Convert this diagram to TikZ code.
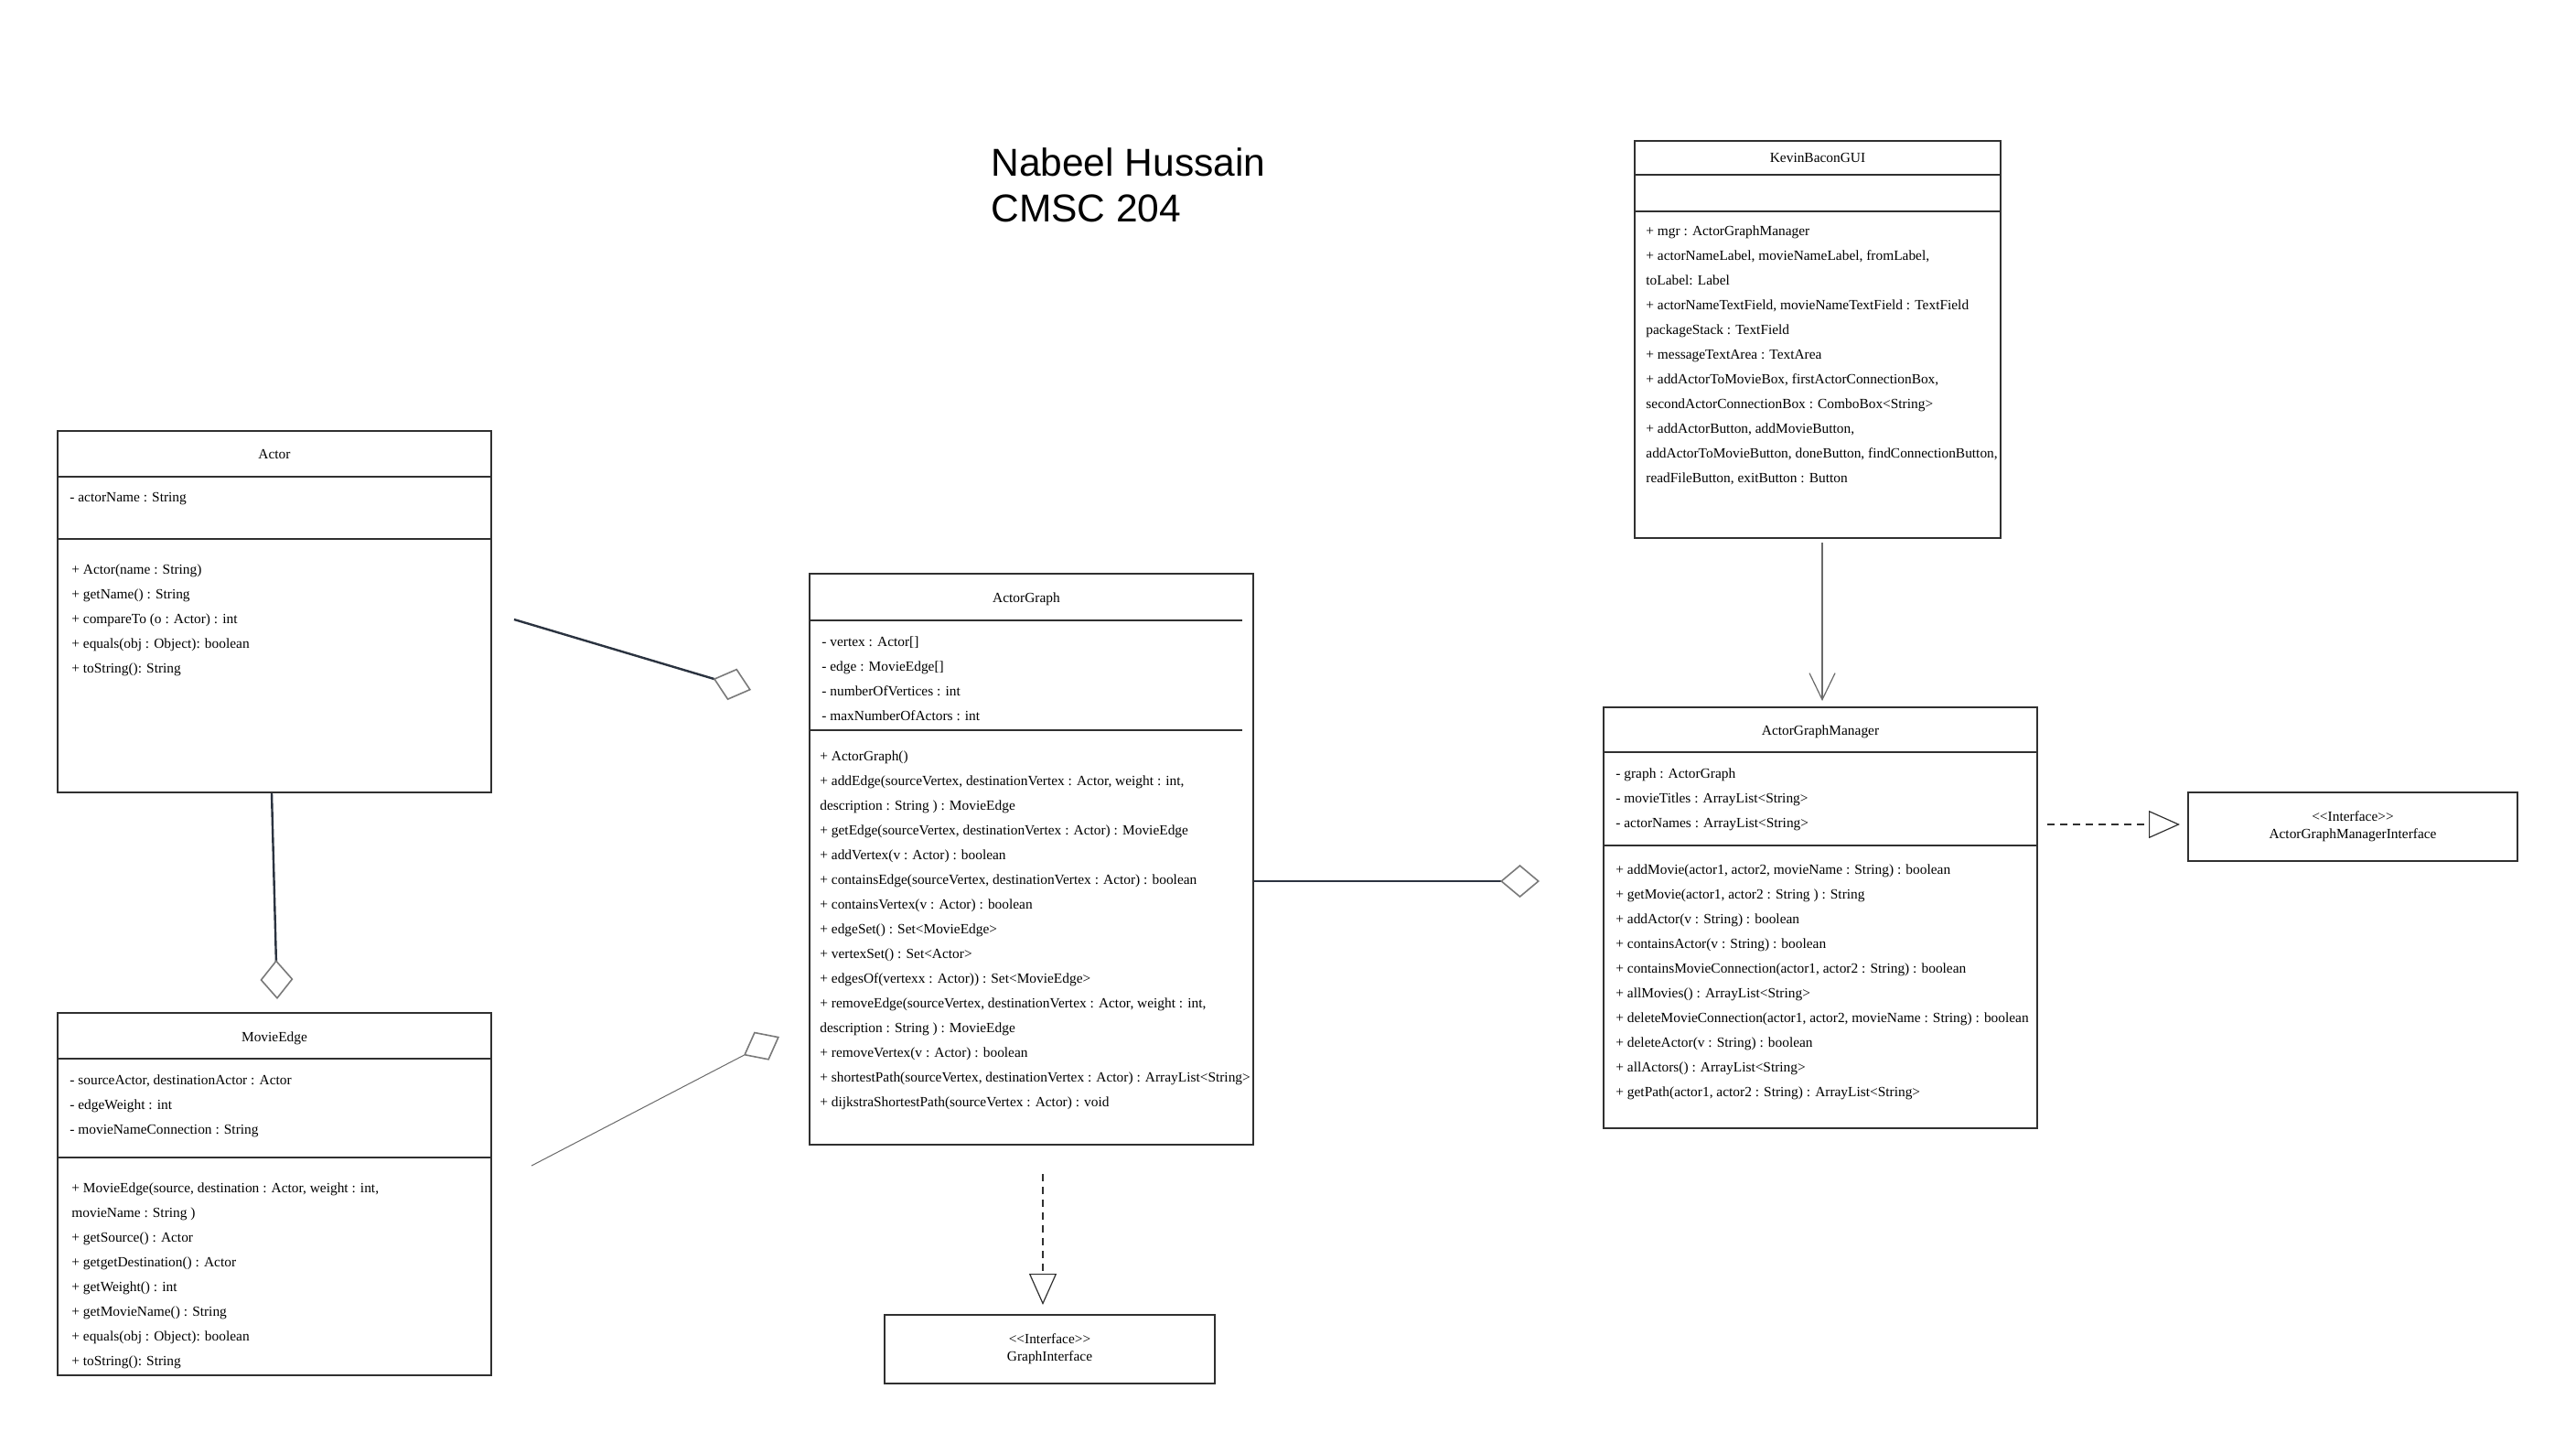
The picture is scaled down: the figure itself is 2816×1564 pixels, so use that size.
\documentclass[tikz,border=0pt]{standalone}
\usepackage{fontspec}
\newfontfamily\umlfont{Liberation Serif}
\newfontfamily\headfont{Liberation Sans}
\usetikzlibrary{arrows.meta,fit}
\definecolor{boxline}{HTML}{303030}
\definecolor{assocline}{HTML}{2B3340}
\definecolor{diagray}{HTML}{7A7A7A}
\definecolor{thinline}{HTML}{6A6A6A}
\newcommand{\stereo}[1]{<\kern0pt<#1>\kern0pt>}
\tikzset{
  classbox/.style={draw=boxline, line width=0.75pt, inner sep=0pt},
  sepline/.style={draw=boxline, line width=0.75pt},
  classtitle/.style={anchor=base, inner sep=0pt, font=\umlfont\fontsize{7.7pt}{9pt}\selectfont},
  member/.style={anchor=base west, inner sep=0pt, font=\umlfont\fontsize{7.7pt}{9pt}\selectfont},
  ifacebox/.style={draw=boxline, line width=0.75pt, inner sep=0pt, align=center,
    minimum width=180pt, minimum height=37.5pt, font=\umlfont\fontsize{7.7pt}{9.5pt}\selectfont},
  headline/.style={anchor=base west, inner sep=0pt, font=\headfont\fontsize{21.25pt}{25pt}\selectfont},
  aggr/.style={draw=assocline, line width=1.2pt,
    -{Diamond[open, color=diagray, line width=0.8pt, length=21.5pt, width=18pt]}},
  thinaggr/.style={draw=thinline, line width=0.5pt,
    -{Diamond[open, color=diagray, line width=0.8pt, length=22pt, width=17.5pt]}},
  uses/.style={draw=thinline, line width=0.6pt, -{Straight Barb[length=14.5pt, width=14pt]}},
  realizes/.style={draw=boxline, line width=0.6pt, dash pattern=on 4pt off 3pt,
    -{Triangle[open, length=17pt, width=15pt, line width=0.6pt]}}
}
\begin{document}
\begin{tikzpicture}[x=0.5pt, y=-0.5pt]
\fill[white] (0,0) rectangle (2816,1564);
\useasboundingbox (0,0) rectangle (2816,1564);

% heading
\node[headline] (author) at (1083,192) {Nabeel Hussain};
\node[headline] (course) at (1083,242) {CMSC 204};

% Actor
\node[classbox, fit={(63,471) (537,866)}] (actor) {};
\draw[sepline] (63,521) -- (537,521);
\draw[sepline] (63,589) -- (537,589);
\node[classtitle] (actor-title) at (300,501) {Actor};
\node[member] (actor-a0) at (76,548) {- actorName : String};
\foreach \txt [count=\i from 0] in {{+ Actor(name : String)}, {+ getName() : String},
    {+ compareTo (o : Actor) : int}, {+ equals(obj : Object): boolean}, {+ toString(): String}}
  \node[member] (actor-m\i) at (78,627+27*\i) {\txt};

% MovieEdge
\node[classbox, fit={(63,1107) (537,1503)}] (edge) {};
\draw[sepline] (63,1157) -- (537,1157);
\draw[sepline] (63,1265) -- (537,1265);
\node[classtitle] (edge-title) at (300,1138) {MovieEdge};
\foreach \txt [count=\i from 0] in {{- sourceActor, destinationActor : Actor},
    {- edgeWeight : int}, {- movieNameConnection : String}}
  \node[member] (edge-a\i) at (76,1185+27*\i) {\txt};
\foreach \txt [count=\i from 0] in {{+ MovieEdge(source, destination : Actor, weight : int,},
    {movieName : String )}, {+ getSource() : Actor}, {+ getgetDestination() : Actor},
    {+ getWeight() : int}, {+ getMovieName() : String}, {+ equals(obj : Object): boolean},
    {+ toString(): String}}
  \node[member] (edge-m\i) at (78,1303+27*\i) {\txt};

% ActorGraph
\node[classbox, fit={(885,627) (1370,1251)}] (graph) {};
\draw[sepline] (885,678) -- (1358,678);
\draw[sepline] (885,798) -- (1358,798);
\node[classtitle] (graph-title) at (1122,658) {ActorGraph};
\foreach \txt [count=\i from 0] in {{- vertex : Actor[]}, {- edge : MovieEdge[]},
    {- numberOfVertices : int}, {- maxNumberOfActors : int}}
  \node[member] (graph-a\i) at (898,706+27*\i) {\txt};
\foreach \txt [count=\i from 0] in {{+ ActorGraph()},
    {+ addEdge(sourceVertex, destinationVertex : Actor, weight : int,},
    {description : String ) : MovieEdge},
    {+ getEdge(sourceVertex, destinationVertex : Actor) : MovieEdge},
    {+ addVertex(v : Actor) : boolean},
    {+ containsEdge(sourceVertex, destinationVertex : Actor) : boolean},
    {+ containsVertex(v : Actor) : boolean}, {+ edgeSet() : Set<MovieEdge>},
    {+ vertexSet() : Set<Actor>}, {+ edgesOf(vertexx : Actor)) : Set<MovieEdge>},
    {+ removeEdge(sourceVertex, destinationVertex : Actor, weight : int,},
    {description : String ) : MovieEdge}, {+ removeVertex(v : Actor) : boolean},
    {+ shortestPath(sourceVertex, destinationVertex : Actor) : ArrayList<String>},
    {+ dijkstraShortestPath(sourceVertex : Actor) : void}}
  \node[member] (graph-m\i) at (896,831+27*\i) {\txt};

% KevinBaconGUI
\node[classbox, fit={(1787,154) (2187,588)}] (gui) {};
\draw[sepline] (1787,191) -- (2187,191);
\draw[sepline] (1787,231) -- (2187,231);
\node[classtitle] (gui-title) at (1987,177) {KevinBaconGUI};
\foreach \txt [count=\i from 0] in {{+ mgr : ActorGraphManager},
    {+ actorNameLabel, movieNameLabel, fromLabel,}, {toLabel: Label},
    {+ actorNameTextField, movieNameTextField : TextField}, {packageStack : TextField},
    {+ messageTextArea : TextArea}, {+ addActorToMovieBox, firstActorConnectionBox,},
    {secondActorConnectionBox : ComboBox<String>}, {+ addActorButton, addMovieButton,},
    {addActorToMovieButton, doneButton, findConnectionButton,},
    {readFileButton, exitButton : Button}}
  \node[member] (gui-m\i) at (1799,257+27*\i) {\txt};

% ActorGraphManager
\node[classbox, fit={(1753,773) (2227,1233)}] (mgr) {};
\draw[sepline] (1753,822) -- (2227,822);
\draw[sepline] (1753,924) -- (2227,924);
\node[classtitle] (mgr-title) at (1990,803) {ActorGraphManager};
\foreach \txt [count=\i from 0] in {{- graph : ActorGraph}, {- movieTitles : ArrayList<String>},
    {- actorNames : ArrayList<String>}}
  \node[member] (mgr-a\i) at (1766,850+27*\i) {\txt};
\foreach \txt [count=\i from 0] in {{+ addMovie(actor1, actor2, movieName : String) : boolean},
    {+ getMovie(actor1, actor2 : String ) : String}, {+ addActor(v : String) : boolean},
    {+ containsActor(v : String) : boolean},
    {+ containsMovieConnection(actor1, actor2 : String) : boolean},
    {+ allMovies() : ArrayList<String>},
    {+ deleteMovieConnection(actor1, actor2, movieName : String) : boolean},
    {+ deleteActor(v : String) : boolean}, {+ allActors() : ArrayList<String>},
    {+ getPath(actor1, actor2 : String) : ArrayList<String>}}
  \node[member] (mgr-m\i) at (1766,955+27*\i) {\txt};

% interfaces
\node[ifacebox] (mgr-iface) at (2572,903.5) {\stereo{Interface}\\ActorGraphManagerInterface};
\node[ifacebox, minimum width=180.5pt] (graph-iface) at (1147.5,1474.5) {\stereo{Interface}\\GraphInterface};

% connector ends
\coordinate (actor-out) at (562,677);
\coordinate (actor-agg) at (821,754);
\coordinate (edge-agg) at (303,1092);
\coordinate (edge-out) at (581,1274);
\coordinate (edge-graph-agg) at (852,1133);
\coordinate (graph-mgr-agg) at (1683,963);
\coordinate (gui-out) at (1992,593);
\coordinate (gui-in) at (1992,766);
\coordinate (mgr-out) at (2238,901);
\coordinate (mgr-real) at (2383,901);
\coordinate (graph-out) at (1140,1283);
\coordinate (graph-real) at (1140,1426);

% relations
\draw[aggr] (actor-out) -- (actor-agg);
\draw[aggr] (actor.south -| 297,0) -- (edge-agg);
\draw[thinaggr] (edge-out) -- (edge-graph-agg);
\draw[aggr] (graph.east |- graph-mgr-agg) -- (graph-mgr-agg);
\draw[uses] (gui-out) -- (gui-in);
\draw[realizes] (mgr-out) -- (mgr-real);
\draw[realizes] (graph-out) -- (graph-real);
\end{tikzpicture}
\end{document}
